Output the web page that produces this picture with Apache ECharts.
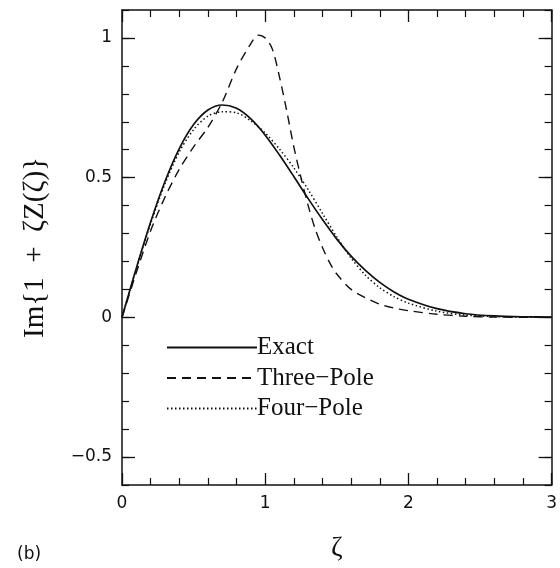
<!DOCTYPE html>
<html>
<head>
<meta charset="utf-8">
<script src="https://cdn.jsdelivr.net/npm/echarts@6/dist/echarts.min.js"></script>
<style>html,body{margin:0;padding:0;background:#fff}#c{width:560px;height:568px}</style>
</head>
<body>
<div id="c"></div>
<script>
// ---- data ----
const zeta = [0, 0.1, 0.2, 0.3, 0.4, 0.5, 0.6, 0.7, 0.8, 0.9, 1.0, 1.1, 1.2, 1.3, 1.4, 1.5, 1.6, 1.7, 1.8, 1.9, 2.0, 2.2, 2.4, 2.6, 2.8, 3.0];
const exact = [0, 0.176, 0.341, 0.486, 0.604, 0.690, 0.742, 0.760, 0.748, 0.710, 0.652, 0.581, 0.504, 0.425, 0.350, 0.280, 0.219, 0.168, 0.125, 0.091, 0.065, 0.031, 0.013, 0.005, 0.002, 0.001];
const fourPole = [0, 0.175, 0.335, 0.478, 0.592, 0.672, 0.720, 0.736, 0.732, 0.703, 0.660, 0.602, 0.535, 0.457, 0.372, 0.288, 0.212, 0.151, 0.106, 0.074, 0.051, 0.022, 0.008, 0.003, 0.001, 0];
const zeta3 = [0, 0.1, 0.2, 0.3, 0.4, 0.5, 0.6, 0.7, 0.8, 0.9, 0.95, 1.0, 1.05, 1.1, 1.15, 1.2, 1.25, 1.3, 1.35, 1.4, 1.45, 1.5, 1.6, 1.7, 1.8, 1.9, 2.0, 2.2, 2.4, 2.6, 3.0];
const threePole = [0, 0.16, 0.31, 0.43, 0.53, 0.61, 0.68, 0.77, 0.89, 0.98, 1.01, 1.0, 0.96, 0.86, 0.74, 0.61, 0.50, 0.40, 0.315, 0.25, 0.196, 0.155, 0.10, 0.07, 0.047, 0.033, 0.024, 0.011, 0.004, 0.001, 0];
const seriesNames = ['Exact', 'Three\u2212Pole', 'Four\u2212Pole'];
const xTickValues = [0, 1, 2, 3];
const yTickValues = [-0.5, 0, 0.5, 1];
const yTickLabels = ['\u22120.5', '0', '0.5', '1'];
const xName = '\u03B6';
const yName = 'Im{1  +  \u03B6Z(\u03B6)}';
const panelLabel = '(b)';

const ink = '#111';
const pair = (xs, ys) => xs.map((x, i) => [x, ys[i]]);

function xAx(pos, labels) {
  return {
    type: 'value', min: 0, max: 3, interval: 1, position: pos,
    axisLine: { show: true, onZero: false, lineStyle: { color: ink, width: 1.5 } },
    axisTick: { show: true, inside: true, length: 12, lineStyle: { color: ink, width: 1.3 } },
    minorTick: { show: true, splitNumber: 5, length: 7, lineStyle: { color: ink, width: 1.2 } },
    splitLine: { show: false },
    axisLabel: labels ? { show: true, margin: 10, fontSize: 17, color: ink, fontFamily: 'DejaVu Sans',
      formatter: v => (xTickValues.indexOf(Math.round(v * 1000) / 1000) >= 0 ? String(Math.round(v)) : '') } : { show: false },
    name: labels ? xName : '', nameLocation: 'middle', nameGap: 50,
    nameTextStyle: { fontSize: 28, fontFamily: 'Liberation Serif', color: ink }
  };
}
function yMinor(pos) {
  return {
    type: 'value', min: -0.6, max: 1.1, interval: 0.1, position: pos,
    axisLine: { show: true, onZero: false, lineStyle: { color: ink, width: 1.5 } },
    axisTick: { show: true, inside: true, length: 7, lineStyle: { color: ink, width: 1.2 } },
    splitLine: { show: false },
    axisLabel: { show: false }
  };
}
function yMajor(pos, labels) {
  return {
    type: 'value', min: -0.6, max: 1.1, position: pos,
    axisLine: { show: false, onZero: false },
    axisTick: { show: true, inside: true, length: 13, customValues: yTickValues, lineStyle: { color: ink, width: 1.3 } },
    splitLine: { show: false },
    axisLabel: labels ? { show: true, customValues: yTickValues, margin: 10, fontSize: 17, color: ink, fontFamily: 'DejaVu Sans',
      formatter: v => { const i = yTickValues.findIndex(t => Math.abs(t - v) < 1e-6); return i >= 0 ? yTickLabels[i] : ''; } } : { show: false },
    name: labels ? yName : '', nameLocation: 'middle', nameGap: 72, nameRotate: 90,
    nameTextStyle: { fontSize: 29, fontFamily: 'Liberation Serif', color: ink }
  };
}

const chart = echarts.init(document.getElementById('c'), null, { renderer: 'canvas' });
chart.setOption({
  backgroundColor: '#fff',
  animation: false,
  grid: { left: 122, right: 8, top: 10, bottom: 82, containLabel: false },
  xAxis: [xAx('bottom', true), xAx('top', false)],
  yAxis: [yMinor('left'), yMajor('left', true), yMinor('right'), yMajor('right', false)],
  legend: {
    orient: 'vertical', left: 161, top: 330,
    itemWidth: 90, itemHeight: 14, itemGap: 5.5,
    itemStyle: { color: 'rgba(0,0,0,0)', borderWidth: 0, opacity: 0 },
    textStyle: { fontFamily: 'Liberation Serif', fontSize: 25, lineHeight: 24, color: ink, padding: [0, 0, 0, -5] },
    data: seriesNames
  },
  graphic: [{
    type: 'text', left: 17, top: 546,
    style: { text: panelLabel, fontSize: 17, fontFamily: 'DejaVu Sans', fill: ink }
  }],
  series: [
    { name: seriesNames[0], type: 'line', xAxisIndex: 0, yAxisIndex: 0, data: pair(zeta, exact), smooth: 0.3, symbol: 'none',
      lineStyle: { color: ink, width: 1.7, type: 'solid' }, itemStyle: { color: ink } },
    { name: seriesNames[1], type: 'line', xAxisIndex: 0, yAxisIndex: 0, data: pair(zeta3, threePole), smooth: 0.3, symbol: 'none',
      lineStyle: { color: ink, width: 1.4, type: [9, 6] }, itemStyle: { color: ink } },
    { name: seriesNames[2], type: 'line', xAxisIndex: 0, yAxisIndex: 0, data: pair(zeta, fourPole), smooth: 0.3, symbol: 'none',
      lineStyle: { color: ink, width: 1.5, type: [1.5, 2.5] }, itemStyle: { color: ink } }
  ]
});
</script>
</body>
</html>
